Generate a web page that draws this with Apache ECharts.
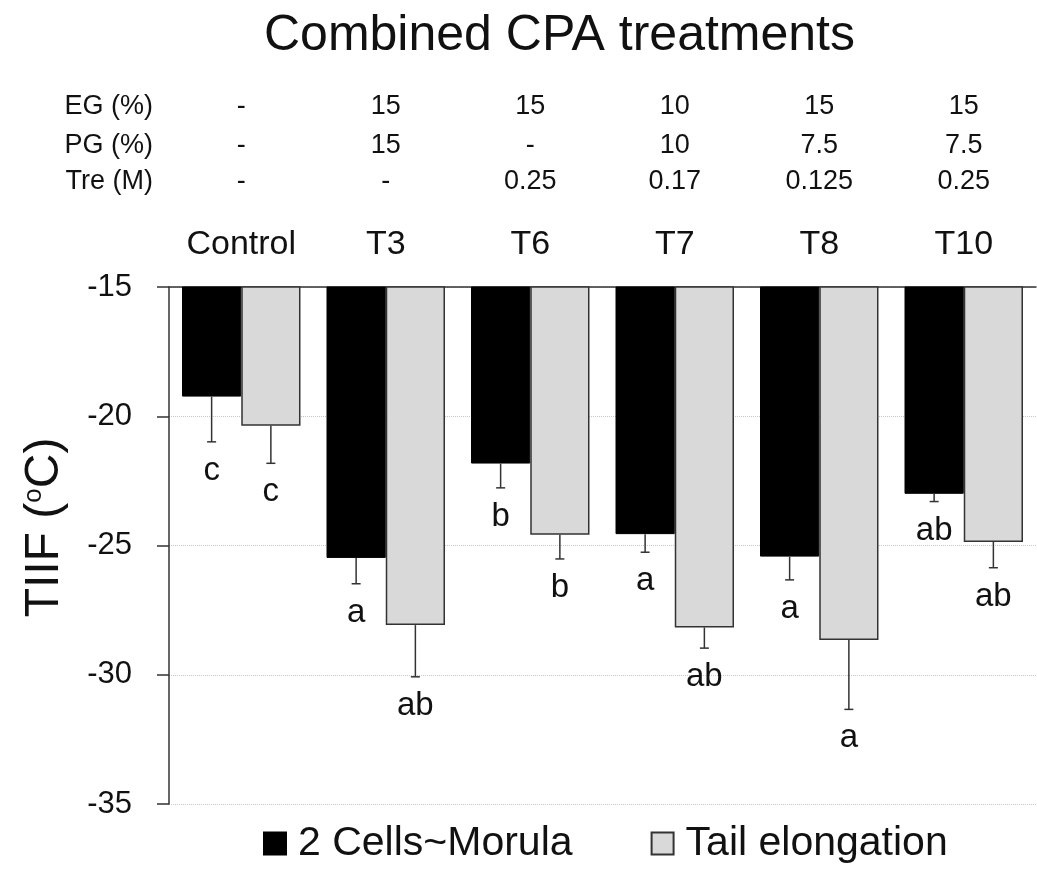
<!DOCTYPE html>
<html>
<head>
<meta charset="utf-8">
<script src="https://cdn.jsdelivr.net/npm/echarts@6/dist/echarts.min.js"></script>
<style>
html,body{margin:0;padding:0;background:#fff;}
#chart{width:1037px;height:894px;}
</style>
</head>
<body>
<div id="chart"></div>
<script>
const categories = ['Control', 'T3', 'T6', 'T7', 'T8', 'T10'];
const egRow = ['-', '15', '15', '10', '15', '15'];
const pgRow = ['-', '15', '-', '10', '7.5', '7.5'];
const treRow = ['-', '-', '0.25', '0.17', '0.125', '0.25'];
const seriesNames = ['2 Cells~Morula', 'Tail elongation'];
const meanMorula = [-19.24, -25.48, -21.83, -24.56, -25.43, -23.0];
const meanTail = [-20.37, -28.08, -24.58, -28.17, -28.66, -24.86];
const errMorula = [1.75, 1.0, 0.94, 0.7, 0.9, 0.3];
const errTail = [1.45, 2.0, 0.94, 0.8, 2.68, 1.0];
const lettersMorula = ['c', 'a', 'b', 'a', 'a', 'ab'];
const lettersTail = ['c', 'ab', 'b', 'ab', 'a', 'ab'];
const yTicks = { min: -35, max: -15, interval: 5 };

const FONT = '"Liberation Sans", Arial, Helvetica, sans-serif';
const CAT_GAP = 0.18;
const INK = '#111';
const LINE = '#333';

function errRender(groupIdx, letters) {
  return function (params, api) {
    const ci = api.value(0), mean = api.value(1), err = api.value(2);
    const band = api.size([1, 0])[0];
    const bw = band * (1 - CAT_GAP) / 2;
    const off = (groupIdx === 0 ? -0.5 : 0.5) * bw;
    const p0 = api.coord([ci, mean]);
    const p1 = api.coord([ci, mean - err]);
    const x = p0[0] + off;
    const st = { stroke: LINE, lineWidth: 1.5 };
    return {
      type: 'group',
      children: [
        { type: 'line', shape: { x1: x, y1: p0[1], x2: x, y2: p1[1] }, style: st },
        { type: 'line', shape: { x1: x - 4.5, y1: p1[1], x2: x + 4.5, y2: p1[1] }, style: st },
        { type: 'text', x: x, y: p1[1] + 29,
          style: { text: letters[params.dataIndex], fontSize: 33, fontFamily: FONT, fill: INK,
                   align: 'center', verticalAlign: 'middle' } }
      ]
    };
  };
}

function rowAxis(name, row, offset) {
  return {
    type: 'category', gridIndex: 0, position: 'top', offset: offset,
    data: categories,
    axisLine: { show: false }, axisTick: { show: false }, splitLine: { show: false },
    axisLabel: { interval: 0, margin: 0, fontSize: 27, fontFamily: FONT, color: INK,
                 formatter: function (v, i) { return row[i]; } },
    name: name, nameLocation: 'start', nameGap: 16,
    nameTextStyle: { fontSize: 27, fontFamily: FONT, color: INK, verticalAlign: 'bottom', align: 'right' }
  };
}

const chart = echarts.init(document.getElementById('chart'), null, { renderer: 'canvas' });
chart.setOption({
  backgroundColor: '#fff',
  animation: false,
  title: {
    text: 'Combined CPA treatments', left: 259, top: 6,
    textStyle: { fontSize: 50, fontWeight: 'normal', fontFamily: FONT, color: INK }
  },
  legend: {
    data: seriesNames, left: 258, top: 818,
    icon: 'rect', itemWidth: 22, itemHeight: 22, itemGap: 78,
    textStyle: { fontSize: 41, fontFamily: FONT, color: INK, padding: [0, 0, 0, 7] }
  },
  grid: { left: 169, right: 1, top: 287, bottom: 90, containLabel: false },
  xAxis: [
    {
      type: 'category', position: 'top', data: categories,
      axisLine: { lineStyle: { color: LINE, width: 1.5 } },
      axisTick: { length: 10, lineStyle: { color: LINE, width: 1.5 } },
      axisLabel: { interval: 0, margin: 25, fontSize: 34, fontFamily: FONT, color: INK }
    },
    rowAxis('EG (%)', egRow, 167),
    rowAxis('PG (%)', pgRow, 128),
    rowAxis('Tre (M)', treRow, 92)
  ],
  yAxis: {
    type: 'value', min: yTicks.min, max: yTicks.max, interval: yTicks.interval,
    name: 'TIIF ({s|o}C)', nameLocation: 'middle', nameGap: 100,
    nameTextStyle: { fontSize: 48, fontFamily: FONT, color: INK, padding: [0, 0, 0, 36],
      rich: { s: { fontSize: 26, fontFamily: FONT, color: INK, verticalAlign: 'top' } } },
    axisLine: { show: true, lineStyle: { color: LINE, width: 1.5 } },
    axisTick: { show: true, length: 12, lineStyle: { color: LINE, width: 1.5 } },
    axisLabel: { margin: 37, fontSize: 31, fontFamily: FONT, color: INK },
    splitLine: { show: true, lineStyle: { color: '#c8c8c8', type: 'dotted', width: 1 } }
  },
  series: [
    {
      name: seriesNames[0], type: 'bar', data: meanMorula, clip: true,
      barCategoryGap: (CAT_GAP * 100) + '%', barGap: '0%',
      itemStyle: { color: '#000', borderColor: '#000', borderWidth: 1 }, z: 2
    },
    {
      name: seriesNames[1], type: 'bar', data: meanTail, clip: true,
      barCategoryGap: (CAT_GAP * 100) + '%', barGap: '0%',
      itemStyle: { color: '#d9d9d9', borderColor: LINE, borderWidth: 1.5 }, z: 2
    },
    {
      name: 'errMorula', type: 'custom', z: 5,
      renderItem: errRender(0, lettersMorula),
      encode: { x: 0, y: 1 },
      data: categories.map(function (c, i) { return [i, meanMorula[i], errMorula[i]]; })
    },
    {
      name: 'errTail', type: 'custom', z: 5,
      renderItem: errRender(1, lettersTail),
      encode: { x: 0, y: 1 },
      data: categories.map(function (c, i) { return [i, meanTail[i], errTail[i]]; })
    }
  ]
});
</script>
</body>
</html>
